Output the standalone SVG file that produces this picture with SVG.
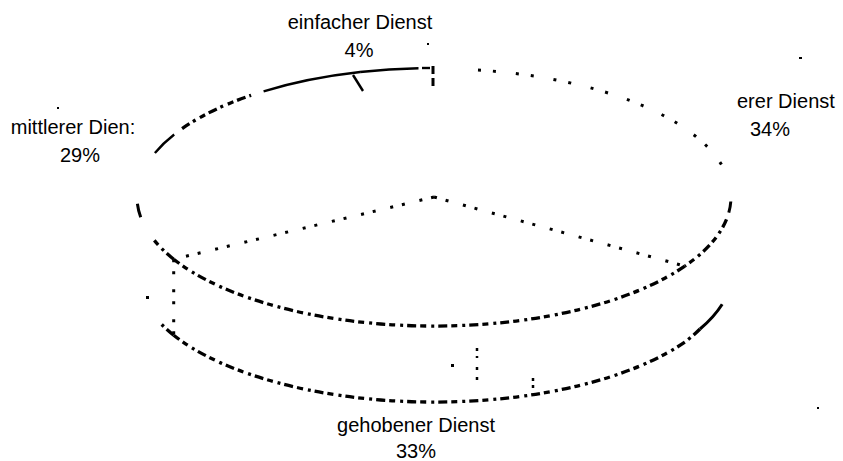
<svg xmlns="http://www.w3.org/2000/svg" width="843" height="461" viewBox="0 0 843 461">
<style>
  .lbl { font-family: "Liberation Sans", Arial, sans-serif; font-size: 20px; fill: #000; }
  .rim { fill: none; stroke: #000; stroke-linecap: butt; }
  .solid { stroke-width: 2.4; }
  .dash { stroke-width: 3.3; stroke-dasharray: 9 4 3 5 6 4; }
  .dot { stroke-width: 3; stroke-dasharray: 3 12 3 20; }
  .rad { fill: none; stroke: #000; stroke-width: 3; stroke-dasharray: 3 9 3 15; }
</style>
<rect width="843" height="461" fill="#fff"/>

<g id="slice-einfacher">
  <path class="rim solid" d="M 360.1 72.0 A 297 129 0 0 1 418.5 68.2"/>
  <path class="rim solid" d="M 422 68 L 430 68"/>
  <text class="lbl" x="360" y="29" text-anchor="middle">einfacher Dienst</text>
  <text class="lbl" x="359" y="57" text-anchor="middle">4%</text>
</g>

<g id="slice-hoeherer">
  <path class="rim dot" d="M 478 70 A 297 129 0 0 1 722.2 165.8"/>
  <path class="rim" stroke-width="3" d="M 730.8 201.5 A 297 129 0 0 1 728.8 212.7"/>
  <path class="rim dash" d="M 726.5 219.4 A 297 129 0 0 1 684.8 266.1"/>
  <path class="rim" stroke-width="3" d="M 722.2 304.2 A 297 129 0 0 1 700 329"/>
  <path class="rim dash" d="M 700 329 A 297 129 0 0 1 684.8 342.1"/>
  <text class="lbl" x="737" y="108">erer Dienst</text>
  <text class="lbl" x="770" y="136" text-anchor="middle">34%</text>
</g>

<g id="slice-gehobener">
  <path class="rim dash" d="M 684.8 266.1 A 297 129 0 0 1 173.7 259.2"/>
  <path class="rim dash" d="M 684.8 342.1 A 297 129 0 0 1 173.7 335.2"/>
  <text class="lbl" x="416" y="432" text-anchor="middle">gehobener Dienst</text>
  <text class="lbl" x="416" y="458" text-anchor="middle">33%</text>
</g>

<g id="slice-mittlerer">
  <path class="rim dash" d="M 173.7 259.2 A 297 129 0 0 1 153.2 239"/>
  <path class="rim dash" d="M 173.7 335.2 A 297 129 0 0 1 160.6 323.4"/>
  <path class="rim" stroke-width="3" d="M 140.7 217.2 A 297 129 0 0 1 137.4 203.7"/>
  <path class="rim solid" d="M 154.9 152.9 A 297 129 0 0 1 174.2 134.5"/>
  <path class="rim dash" d="M 182.1 128.6 A 297 129 0 0 1 251.1 95.3"/>
  <path class="rim solid" d="M 263.6 91.3 A 297 129 0 0 1 360.1 72.0"/>
  <text class="lbl" x="73" y="134" text-anchor="middle">mittlerer Dien:</text>
  <text class="lbl" x="80" y="162" text-anchor="middle">29%</text>
</g>

<g id="connectors">
  <path class="rad" d="M 434 197 L 173.7 259.2"/>
  <path class="rad" d="M 434 197 L 684.8 266.1"/>
  <path class="rad" d="M 173.7 259.2 L 173.7 335.2"/>
  <path fill="none" stroke="#000" stroke-width="3" stroke-dasharray="8 4 8 30" d="M 433 66 L 433 92"/>
  <path fill="none" stroke="#000" stroke-width="2.4" d="M 353 75 L 363 91"/>
  <path fill="none" stroke="#000" stroke-width="2.5" stroke-dasharray="3 5 2 9 3 7" d="M 477 348 L 477 381"/>
  <path fill="none" stroke="#000" stroke-width="2.5" stroke-dasharray="3 4" d="M 533 378 L 533 390"/>
</g>

<g id="specks" fill="#000">
  <rect x="427" y="43" width="2" height="2"/>
  <rect x="57" y="107" width="2" height="2"/>
  <rect x="799" y="57" width="3" height="2"/>
  <rect x="146" y="296" width="3" height="3"/>
  <rect x="451" y="364" width="3" height="3"/>
  <rect x="817" y="407" width="2" height="2"/>
</g>
</svg>
